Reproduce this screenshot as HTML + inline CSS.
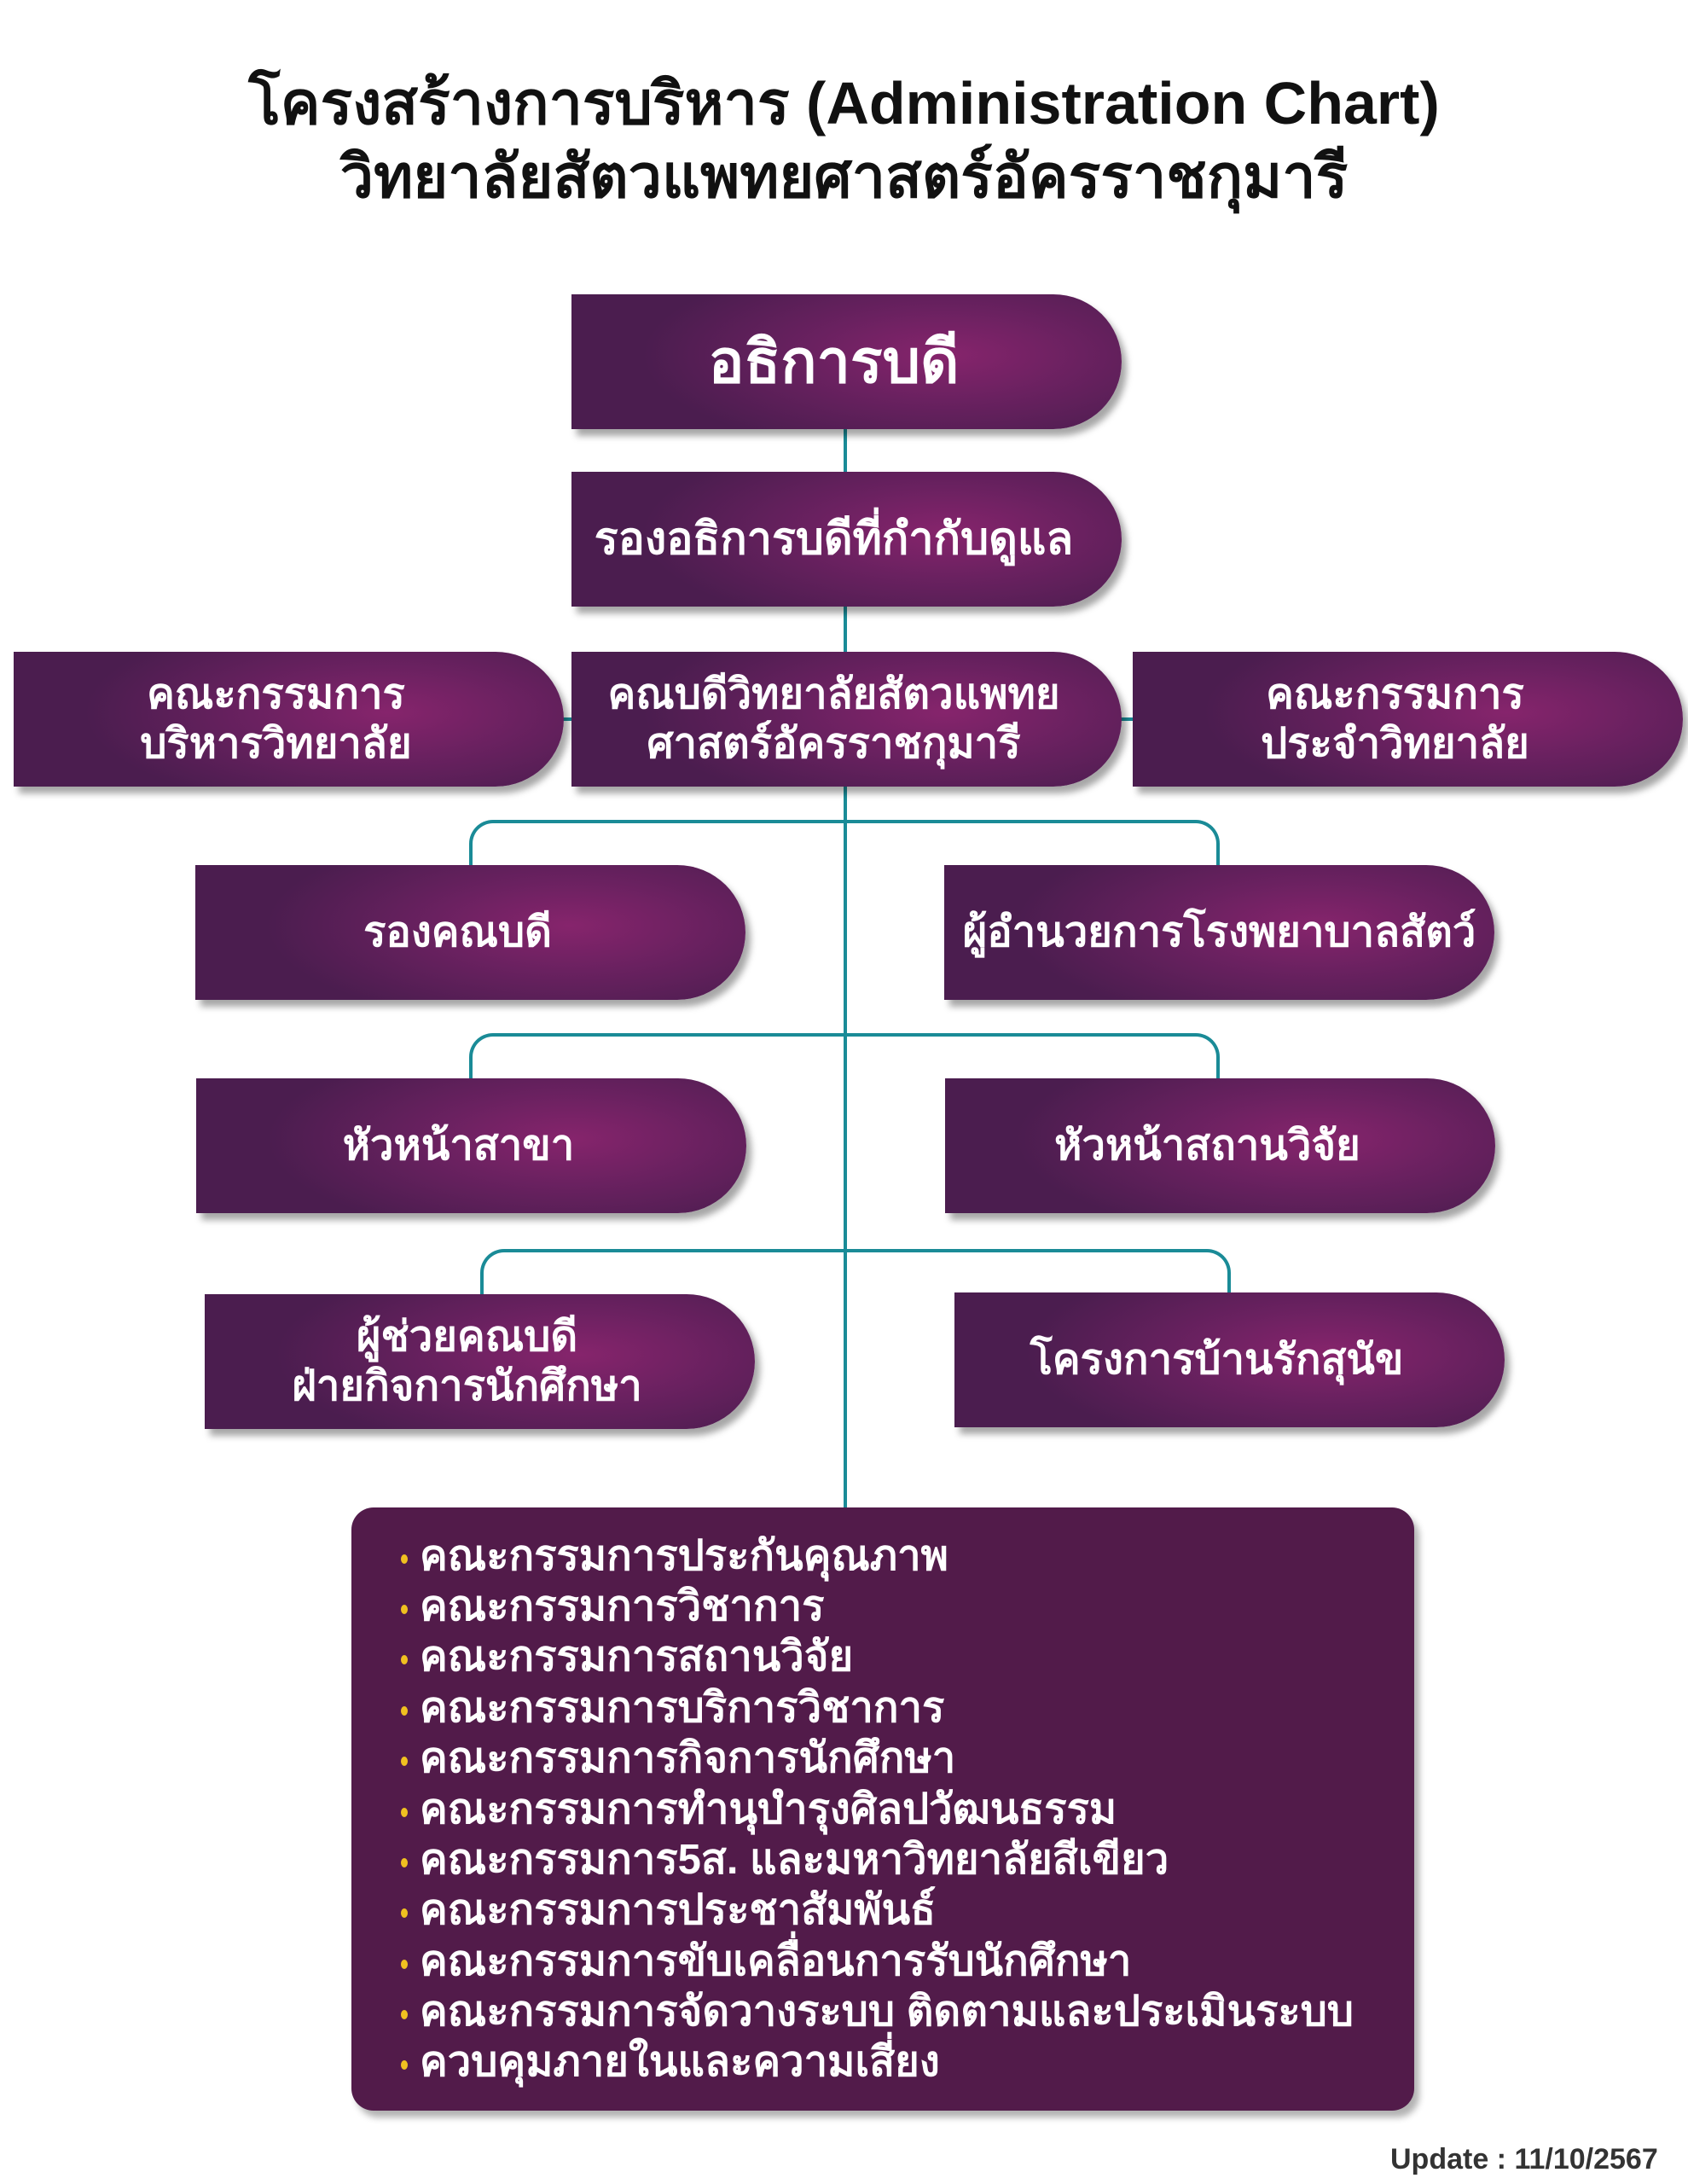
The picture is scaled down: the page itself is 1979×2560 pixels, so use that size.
<!DOCTYPE html>
<html><head><meta charset="utf-8"><style>
html,body{margin:0;padding:0;}
body{width:1979px;height:2560px;position:relative;background:#fff;font-family:"Liberation Sans","Noto Sans CJK SC",sans-serif;overflow:hidden;}
.t{position:absolute;left:0;width:1979px;text-align:center;font-weight:bold;color:#111;font-size:70px;line-height:1;}
.b{position:absolute;width:645px;height:158px;border-radius:0 80px 80px 0/0 79px 79px 0;
background:radial-gradient(ellipse 55% 75% at 68% 45%,#86246c 0%,#6a2160 45%,#4b1d4f 100%);
box-shadow:6px 8px 8px rgba(0,0,0,.35);color:#fff;font-weight:bold;display:flex;align-items:center;justify-content:center;text-align:center;font-size:49px;line-height:58px;box-sizing:border-box;padding-right:30px;}
.l{position:absolute;background:#1a8b97;}
.br{position:absolute;border:4px solid #1a8b97;border-bottom:none;border-radius:28px 28px 0 0;}
.list{position:absolute;left:412px;top:1767px;width:1246px;height:707px;background:#521b4a;border-radius:26px;box-shadow:6px 8px 8px rgba(0,0,0,.3);}
.list div{position:absolute;left:80px;color:#fff;font-weight:bold;font-size:49px;line-height:1;}
.list div:before{content:"";position:absolute;left:-22px;top:22px;width:8px;height:11px;border-radius:50%;background:#f0c020;}
</style></head><body>
<div class="t" style="top:86px">โครงสร้างการบริหาร (Administration Chart)</div>
<div class="t" style="top:172px">วิทยาลัยสัตวแพทยศาสตร์อัครราชกุมารี</div>

<div class="l" style="left:989px;top:500px;width:4px;height:1268px"></div>
<div class="l" style="left:660px;top:841px;width:12px;height:4px"></div>
<div class="l" style="left:1312px;top:841px;width:18px;height:4px"></div>
<div class="br" style="left:550px;top:961px;width:872px;height:53px"></div>
<div class="br" style="left:550px;top:1211px;width:872px;height:53px"></div>
<div class="br" style="left:563px;top:1464px;width:872px;height:53px"></div>

<div class="b" style="left:670px;top:345px;font-size:70px">อธิการบดี</div>
<div class="b" style="left:670px;top:553px;font-size:52px">รองอธิการบดีที่กำกับดูแล</div>
<div class="b" style="left:16px;top:764px">คณะกรรมการ<br>บริหารวิทยาลัย</div>
<div class="b" style="left:670px;top:764px">คณบดีวิทยาลัยสัตวแพทย<br>ศาสตร์อัครราชกุมารี</div>
<div class="b" style="left:1328px;top:764px">คณะกรรมการ<br>ประจำวิทยาลัย</div>
<div class="b" style="left:229px;top:1014px">รองคณบดี</div>
<div class="b" style="left:1107px;top:1014px;padding-right:0">ผู้อำนวยการโรงพยาบาลสัตว์</div>
<div class="b" style="left:230px;top:1264px">หัวหน้าสาขา</div>
<div class="b" style="left:1108px;top:1264px">หัวหน้าสถานวิจัย</div>
<div class="b" style="left:240px;top:1517px">ผู้ช่วยคณบดี<br>ฝ่ายกิจการนักศึกษา</div>
<div class="b" style="left:1119px;top:1515px">โครงการบ้านรักสุนัข</div>

<div class="list">
<div style="top:33px">คณะกรรมการประกันคุณภาพ</div>
<div style="top:92px">คณะกรรมการวิชาการ</div>
<div style="top:151px">คณะกรรมการสถานวิจัย</div>
<div style="top:211px">คณะกรรมการบริการวิชาการ</div>
<div style="top:270px">คณะกรรมการกิจการนักศึกษา</div>
<div style="top:330px">คณะกรรมการทำนุบำรุงศิลปวัฒนธรรม</div>
<div style="top:389px">คณะกรรมการ5ส. และมหาวิทยาลัยสีเขียว</div>
<div style="top:448px">คณะกรรมการประชาสัมพันธ์</div>
<div style="top:508px">คณะกรรมการขับเคลื่อนการรับนักศึกษา</div>
<div style="top:567px">คณะกรรมการจัดวางระบบ ติดตามและประเมินระบบ</div>
<div style="top:626px">ควบคุมภายในและความเสี่ยง</div>
</div>
<div style="position:absolute;left:1630px;top:2512px;font-size:34px;font-weight:bold;color:#333">Update : 11/10/2567</div>
</body></html>
